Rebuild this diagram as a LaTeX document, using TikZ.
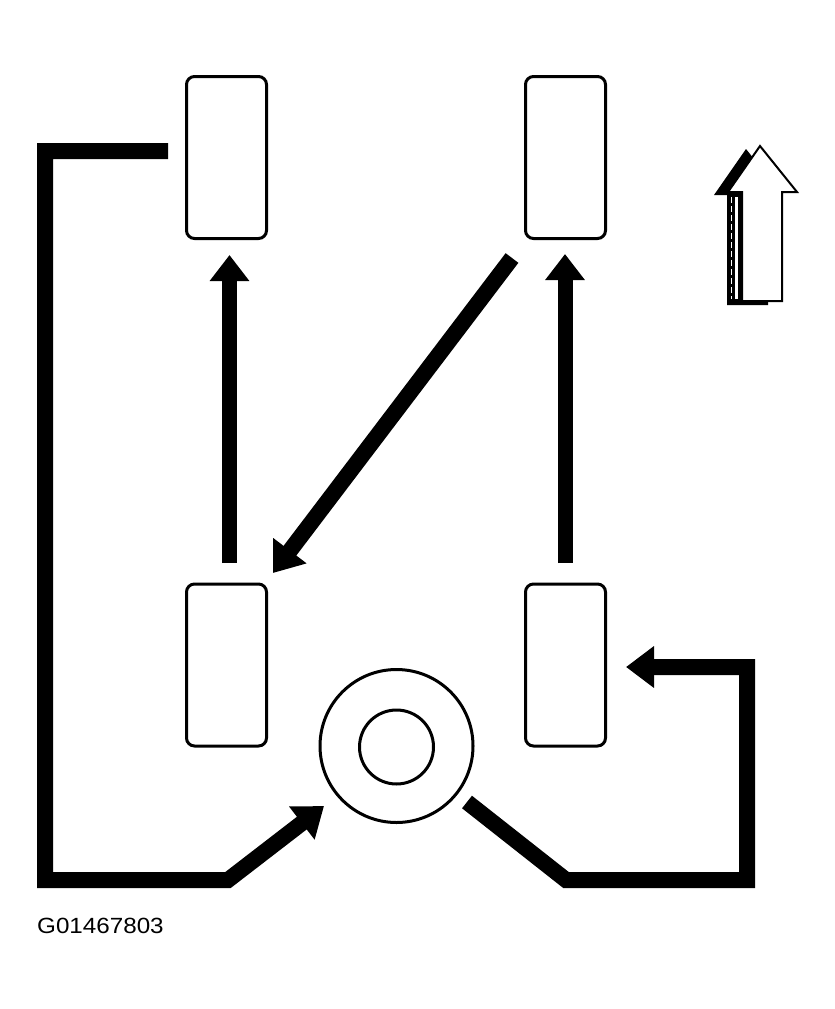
\documentclass[tikz,border=0pt]{standalone}
\usepackage{graphicx}
\usepackage{fontspec}
\setmainfont{Liberation Sans}
\usetikzlibrary{arrows.meta}
\begin{document}
\begin{tikzpicture}[x=1pt,y=-1pt,
  tire/.style={draw, line width=3pt, rounded corners=8pt, minimum width=80pt, minimum height=162pt, inner sep=0pt},
  ring/.style={draw, circle, line width=3pt, inner sep=0pt},
  heavy/.style={line width=16pt, line join=miter},
  vhead/.style={-{Triangle[length=26pt,width=38pt]}},
  dhead/.style={-{Triangle[length=28pt,width=40pt]}},
  label/.style={anchor=base west, inner sep=0pt, font=\fontsize{22}{26}\selectfont}
]
\useasboundingbox (0,0) rectangle (835,1009);

% tires
\node[tire] (TL) at (226.5,157.5) {};
\node[tire] (TR) at (565.5,157.5) {};
\node[tire] (BL) at (226.5,665) {};
\node[tire] (BR) at (565.5,665) {};

% spare
\node[ring, minimum size=153pt] (spare) at (396.5,746) {};
\node[ring, minimum size=74pt] (hub) at (396.5,747) {};

% coordinates of connector ends
\coordinate (lvS) at (229.5,563);
\coordinate (lvE) at (229.5,255);
\coordinate (rvS) at (565,563);
\coordinate (rvE) at (565,254);
\coordinate (dS) at (512,258);
\coordinate (dE) at (273,573);
\coordinate (lpS) at (168,151);
\coordinate (lp1) at (45,151);
\coordinate (lp2) at (45,880);
\coordinate (lp3) at (228,880);
\coordinate (lpE) at (324,806);
\coordinate (rpS) at (467,802);
\coordinate (rp1) at (566,880);
\coordinate (rp2) at (747,880);
\coordinate (rp3) at (747,667);
\coordinate (rpE) at (626,667);

% rotation arrows
\draw[heavy, line width=15pt, vhead] (lvS) -- (lvE);
\draw[heavy, line width=15pt, vhead] (rvS) -- (rvE);
\draw[heavy, dhead] (dS) -- (dE);
\draw[heavy, dhead] (lpS) -- (lp1) -- (lp2) -- (lp3) -- (lpE);
\draw[heavy, dhead] (rpS) -- (rp1) -- (rp2) -- (rp3) -- (rpE);

% forward direction arrow
\fill[black] (746,149) -- (783,195) -- (768,195) -- (768,305) -- (727,305) -- (727,195) -- (714,195) -- cycle;
\filldraw[fill=white, draw=black, line width=2pt, line join=miter] (760,146) -- (797,192) -- (782,192) -- (782,301) -- (742,301) -- (742,192) -- (728,192) -- cycle;
\draw[white, line width=2.5pt] (736.5,197) -- (736.5,299);
\draw[white, line width=0.8pt, dash pattern=on 6pt off 3pt] (731,197) -- (731,299);

% label
\node[label] (code) at (37,933) {\scalebox{1.1}[1]{G01467803}};
\end{tikzpicture}
\end{document}
